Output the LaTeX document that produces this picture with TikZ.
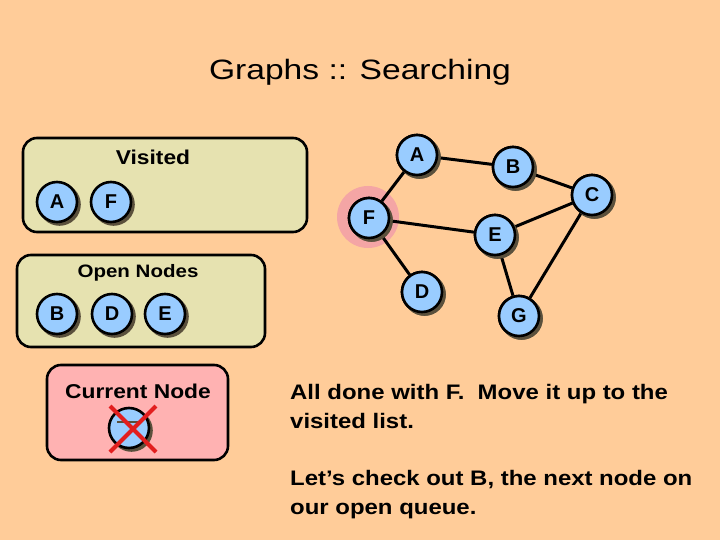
\documentclass[tikz,border=0pt]{standalone}
\usepackage{fontspec}
\setmainfont{Liberation Sans}
\newfontfamily\widebold[FakeStretch=1.14]{Liberation Sans}
\newfontfamily\titlefont[FakeStretch=1.2]{Liberation Sans}
\begin{document}
\begin{tikzpicture}[x=1pt,y=-1pt,
  gnode/.style={circle,draw=black,line width=2.6pt,fill=nodeblue,minimum size=40pt,inner sep=0pt,
    font=\fontsize{20}{22}\selectfont\bfseries,
    preaction={fill=shadowc,draw=shadowc,line width=2.6pt,transform canvas={shift={(2.5pt,-2.5pt)}}}},
  listbox/.style={draw=black,line width=2.6pt,rounded corners=14pt},
  edge/.style={line width=3pt,black},
  body/.style={anchor=base west,inner sep=0pt,font=\widebold\fontsize{21}{25}\selectfont\bfseries}]
\definecolor{bg}{RGB}{255,204,153}
\definecolor{boxc}{RGB}{230,226,176}
\definecolor{pinkc}{RGB}{255,178,178}
\definecolor{nodeblue}{RGB}{153,204,255}
\definecolor{shadowc}{RGB}{90,80,60}
\definecolor{haloc}{RGB}{244,165,165}
\definecolor{xred}{RGB}{226,30,30}
\fill[bg] (0,0) rectangle (720,540);
\useasboundingbox (0,0) rectangle (720,540);
% title
\node[anchor=base,inner sep=0pt,font=\titlefont\fontsize{28}{32}\selectfont] (title) at (360,80) {Graphs :: Searching};
% boxes
\draw[listbox,fill=boxc] (23,138) rectangle (307,232);
\node[font=\widebold\fontsize{20}{24}\selectfont\bfseries] (vlab) at (153,157) {Visited};
\node[gnode] (vA) at (57,202) {A};
\node[gnode] (vF) at (111,202) {F};
\draw[listbox,fill=boxc] (17,255) rectangle (265,347);
\node[font=\widebold\fontsize{18}{22}\selectfont\bfseries] (olab) at (138,273) {Open Nodes};
\node[gnode] (oB) at (57,314) {B};
\node[gnode] (oD) at (112,314) {D};
\node[gnode] (oE) at (165,314) {E};
\draw[listbox,fill=pinkc] (47,365) rectangle (228,460);
\node[font=\widebold\fontsize{20}{24}\selectfont\bfseries] (clab) at (138,391) {Current Node};
\node[gnode] (cur) at (129,428) {};
\draw[line width=2pt,shadowc] (117,422) -- (140,422);
\coordinate (x1) at (110,406);
\coordinate (x2) at (156,452);
\coordinate (x3) at (156,406);
\coordinate (x4) at (110,452);
\draw[xred,line width=4pt] (x1) -- (x2) (x3) -- (x4);
% graph
\fill[haloc] (368,217) circle (31);
\node[gnode] (A) at (417,155) {A};
\node[gnode] (B) at (513,167) {B};
\node[gnode] (C) at (592,195) {C};
\node[gnode] (F) at (369,218) {F};
\node[gnode] (E) at (495,235) {E};
\node[gnode] (D) at (422,292) {D};
\node[gnode] (G) at (519,316) {G};
\draw[edge] (A) -- (F) (A) -- (B) (B) -- (C) (C) -- (E) (F) -- (E) (F) -- (D) (E) -- (G) (C) -- (G);
\node[gnode] at (A) {A};
\node[gnode] at (B) {B};
\node[gnode] at (C) {C};
\node[gnode] at (F) {F};
\node[gnode] at (E) {E};
\node[gnode] at (D) {D};
\node[gnode] at (G) {G};
% text
\node[body] (t1) at (290,399) {All done with F.\ \ Move it up to the};
\node[body] (t2) at (290,428) {visited list.};
\node[body] (t3) at (290,485) {Let’s check out B, the next node on};
\node[body] (t4) at (290,514) {our open queue.};
\end{tikzpicture}
\end{document}
